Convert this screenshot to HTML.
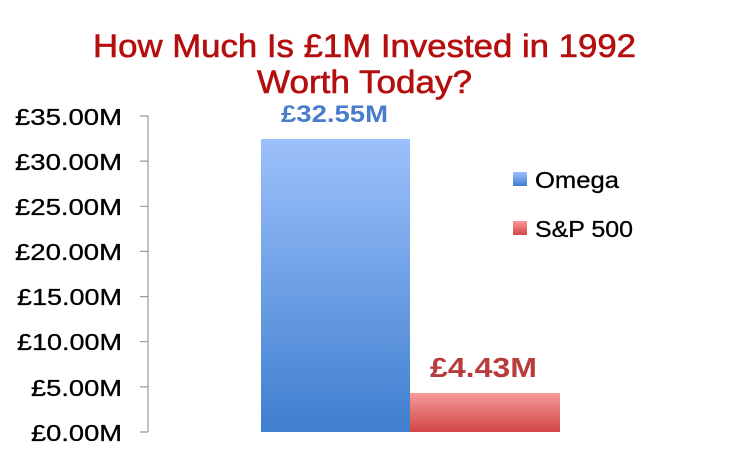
<!DOCTYPE html>
<html><head><style>
body{margin:0;background:#fff;}
svg text{font-family:"Liberation Sans",sans-serif;}
</style></head><body>
<svg width="729" height="457" viewBox="0 0 729 457">
<defs>
<linearGradient id="b" x1="0" y1="0" x2="0" y2="1"><stop offset="0" stop-color="#9cc0fb"/><stop offset="1" stop-color="#3f7fcf"/></linearGradient>
<linearGradient id="r" x1="0" y1="0" x2="0" y2="1"><stop offset="0" stop-color="#f99a9a"/><stop offset="1" stop-color="#d24444"/></linearGradient>
</defs>
<text x="93" y="57" font-size="32" fill="#b40e0e" stroke="#b40e0e" stroke-width="0.6" textLength="543" lengthAdjust="spacingAndGlyphs">How Much Is £1M Invested in 1992</text>
<text x="257" y="93" font-size="32" fill="#b40e0e" stroke="#b40e0e" stroke-width="0.6" textLength="215" lengthAdjust="spacingAndGlyphs">Worth Today?</text>
<g stroke="#999" stroke-width="1.2" fill="none">
<path d="M148 116V432"/>
<path d="M140 116H148M140 161.1H148M140 206.3H148M140 251.4H148M140 296.6H148M140 341.7H148M140 386.9H148M140 432H148"/>
</g>
<g font-size="23" fill="#000" stroke="#000" stroke-width="0.3">
<text x="15" y="125" textLength="107" lengthAdjust="spacingAndGlyphs">£35.00M</text>
<text x="15" y="170" textLength="107" lengthAdjust="spacingAndGlyphs">£30.00M</text>
<text x="15" y="215" textLength="107" lengthAdjust="spacingAndGlyphs">£25.00M</text>
<text x="15" y="260" textLength="107" lengthAdjust="spacingAndGlyphs">£20.00M</text>
<text x="17" y="305" textLength="105" lengthAdjust="spacingAndGlyphs">£15.00M</text>
<text x="17" y="350" textLength="105" lengthAdjust="spacingAndGlyphs">£10.00M</text>
<text x="31" y="396" textLength="91" lengthAdjust="spacingAndGlyphs">£5.00M</text>
<text x="31" y="441" textLength="91" lengthAdjust="spacingAndGlyphs">£0.00M</text>
</g>
<rect x="261" y="139" width="149" height="293" fill="url(#b)"/>
<rect x="410" y="393" width="150" height="39" fill="url(#r)"/>
<text x="281" y="122" font-size="24" font-weight="bold" fill="#4a7ccc" textLength="107" lengthAdjust="spacingAndGlyphs">£32.55M</text>
<text x="430" y="377" font-size="28" font-weight="bold" fill="#b83c3c" textLength="107" lengthAdjust="spacingAndGlyphs">£4.43M</text>
<rect x="513" y="172" width="14" height="14" fill="url(#b)"/>
<text x="535" y="188" font-size="23" fill="#000" stroke="#000" stroke-width="0.3" textLength="84" lengthAdjust="spacingAndGlyphs">Omega</text>
<rect x="513" y="221" width="14" height="14" fill="url(#r)"/>
<text x="535" y="237" font-size="23" fill="#000" stroke="#000" stroke-width="0.3" textLength="98" lengthAdjust="spacingAndGlyphs">S&amp;P 500</text>
</svg>
</body></html>
